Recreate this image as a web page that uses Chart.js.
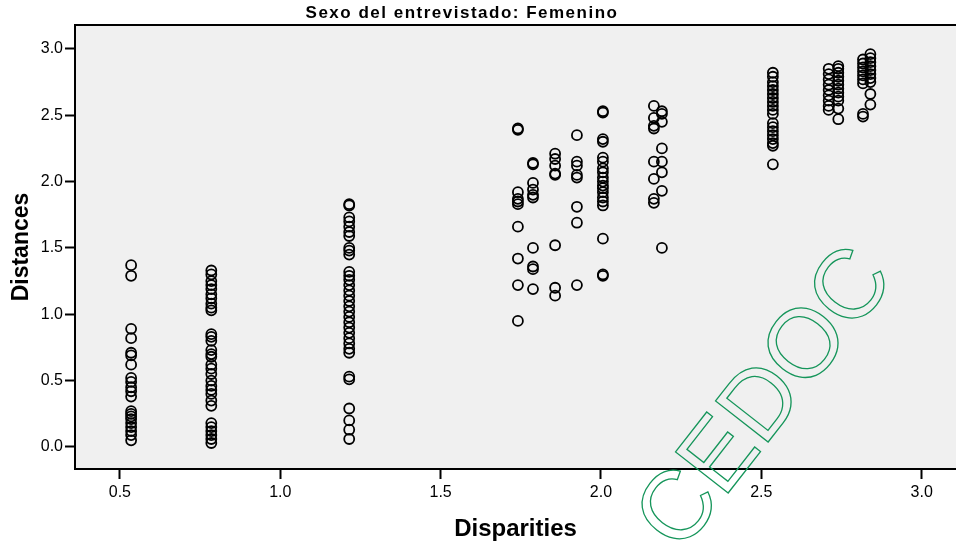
<!DOCTYPE html>
<html>
<head>
<meta charset="utf-8">
<script src="https://cdn.jsdelivr.net/npm/chart.js@4"></script>
<style>
  html, body { margin: 0; padding: 0; background: #fff; overflow: hidden; }
  #scatterChart { display: block; width: 956px; height: 547px; }
</style>
</head>
<body>
<canvas id="scatterChart" width="956" height="547"></canvas>
<script>
// DATA
let chartTitle = 'Sexo del entrevistado: Femenino';
let xAxisLabel = 'Disparities';
let yAxisLabel = 'Distances';
let tickValues = [0.0, 0.5, 1.0, 1.5, 2.0, 2.5, 3.0];

// disparity of each column of points
let disparityLevels = [0.535, 0.785, 1.215, 1.741, 1.788, 1.857, 1.925, 2.006, 2.165, 2.19, 2.536, 2.71, 2.74, 2.817, 2.84];

// distances read for each column, same order
let distancesAtLevel = [
    [1.37, 1.29, 0.89, 0.82, 0.71, 0.69, 0.62, 0.52, 0.49, 0.45, 0.42, 0.38, 0.27, 0.25, 0.23, 0.21, 0.18, 0.15, 0.12, 0.09, 0.05],
    [1.33, 1.30, 1.25, 1.22, 1.19, 1.15, 1.12, 1.08, 1.05, 1.03, 0.85, 0.83, 0.80, 0.73, 0.70, 0.68, 0.62, 0.59, 0.55, 0.50, 0.46, 0.43, 0.40, 0.35, 0.31, 0.18, 0.15, 0.12, 0.09, 0.06, 0.03],
    [1.83, 1.82, 1.73, 1.70, 1.66, 1.62, 1.59, 1.50, 1.48, 1.45, 1.32, 1.29, 1.26, 1.22, 1.18, 1.14, 1.10, 1.06, 1.02, 0.98, 0.94, 0.90, 0.86, 0.82, 0.78, 0.74, 0.71, 0.53, 0.51, 0.29, 0.20, 0.13, 0.06],
    [2.40, 2.39, 1.92, 1.87, 1.85, 1.83, 1.66, 1.42, 1.22, 0.95],
    [2.14, 2.13, 1.99, 1.94, 1.90, 1.88, 1.50, 1.36, 1.34, 1.19],
    [2.21, 2.17, 2.12, 2.06, 2.05, 1.52, 1.20, 1.14],
    [2.35, 2.15, 2.12, 2.05, 2.03, 1.81, 1.69, 1.22],
    [2.53, 2.52, 2.32, 2.30, 2.18, 2.15, 2.10, 2.07, 2.03, 2.00, 1.97, 1.95, 1.92, 1.88, 1.85, 1.82, 1.57, 1.30, 1.29],
    [2.57, 2.48, 2.42, 2.40, 2.15, 2.02, 1.87, 1.84],
    [2.53, 2.51, 2.45, 2.25, 2.15, 2.07, 1.93, 1.50],
    [2.82, 2.79, 2.75, 2.72, 2.69, 2.66, 2.63, 2.60, 2.57, 2.54, 2.51, 2.44, 2.41, 2.38, 2.35, 2.32, 2.29, 2.27, 2.13],
    [2.85, 2.81, 2.77, 2.73, 2.69, 2.65, 2.61, 2.57, 2.54],
    [2.87, 2.85, 2.82, 2.79, 2.76, 2.73, 2.70, 2.67, 2.64, 2.61, 2.55, 2.47],
    [2.92, 2.89, 2.86, 2.83, 2.80, 2.77, 2.74, 2.51, 2.49],
    [2.96, 2.93, 2.90, 2.87, 2.84, 2.81, 2.78, 2.75, 2.66, 2.58]
];

let watermarkText = 'CEDOC';

// build points for the library
let scatterPoints = [];
for (let i = 0; i < disparityLevels.length; i++) {
    for (let j = 0; j < distancesAtLevel[i].length; j++) {
        scatterPoints.push({ x: disparityLevels[i], y: distancesAtLevel[i][j] });
    }
}

const FONT = "'Liberation Sans', Arial, sans-serif";

function keepTicks(scale) {
    scale.ticks = tickValues
        .filter(v => v >= scale.min && v <= scale.max)
        .map(v => ({ value: v }));
}

// grey plot area + top frame line
let plotBackground = {
    id: 'plotBackground',
    beforeDraw(chart) {
        let ctx = chart.ctx, a = chart.chartArea;
        ctx.save();
        ctx.fillStyle = '#f0f0f0';
        ctx.fillRect(a.left, a.top, chart.width - a.left, a.bottom - a.top);
        ctx.strokeStyle = '#000';
        ctx.lineWidth = 2;
        ctx.beginPath();
        ctx.moveTo(a.left, a.top);
        ctx.lineTo(chart.width, a.top);
        ctx.stroke();
        ctx.restore();
    }
};

// chart title, placed like the original
let topTitle = {
    id: 'topTitle',
    afterDraw(chart) {
        let ctx = chart.ctx;
        ctx.save();
        ctx.font = 'bold 17px ' + FONT;
        ctx.letterSpacing = '1.5px';
        ctx.fillStyle = '#000';
        ctx.textAlign = 'center';
        ctx.textBaseline = 'middle';
        ctx.fillText(chartTitle, 462, 13);
        ctx.restore();
    }
};

// green outlined stamp
let stamp = {
    id: 'stamp',
    afterDraw(chart) {
        let ctx = chart.ctx;
        ctx.save();
        ctx.translate(767, 400);
        ctx.rotate(-52 * Math.PI / 180);
        ctx.font = '97px ' + FONT;
        ctx.textAlign = 'center';
        ctx.textBaseline = 'middle';
        ctx.strokeStyle = '#15955a';
        ctx.lineWidth = 1.3;
        ctx.strokeText(watermarkText, 0, 0);
        ctx.restore();
    }
};

let scatterCtx = document.getElementById('scatterChart').getContext('2d');
let scatterChart = new Chart(scatterCtx, {
    type: 'scatter',
    data: {
        datasets: [{
            label: yAxisLabel,
            data: scatterPoints,
            pointStyle: 'circle',
            pointRadius: 5,
            pointHoverRadius: 5,
            borderWidth: 1.8,
            borderColor: '#000',
            backgroundColor: 'rgba(0,0,0,0)'
        }]
    },
    options: {
        responsive: false,
        animation: false,
        layout: { autoPadding: false, padding: { top: 25, left: 0, right: 0, bottom: 0 } },
        plugins: {
            legend: { display: false },
            tooltip: { enabled: false },
            title: { display: false }
        },
        scales: {
            x: {
                type: 'linear',
                min: 0.36,
                max: 3.107,
                afterBuildTicks: keepTicks,
                afterFit(scale) {
                    scale.height = 78;
                    scale.paddingLeft = 0;
                    scale.paddingRight = 0;
                },
                grid: { drawOnChartArea: false, drawTicks: true, tickLength: 10, tickColor: '#000', tickWidth: 2 },
                border: { display: true, color: '#000', width: 2 },
                ticks: {
                    padding: 4,
                    color: '#000',
                    maxRotation: 0,
                    font: { family: FONT, size: 16 },
                    callback: v => v.toFixed(1)
                },
                title: {
                    display: true,
                    text: xAxisLabel,
                    color: '#000',
                    font: { family: FONT, size: 24, weight: 'bold' },
                    padding: { top: 0, bottom: 3 }
                }
            },
            y: {
                type: 'linear',
                min: -0.166,
                max: 3.18,
                afterBuildTicks: keepTicks,
                afterFit(scale) {
                    scale.width = 75;
                    scale.paddingTop = 0;
                    scale.paddingBottom = 0;
                },
                grid: { drawOnChartArea: false, drawTicks: true, tickLength: 10, tickColor: '#000', tickWidth: 2 },
                border: { display: true, color: '#000', width: 2 },
                ticks: {
                    padding: 2,
                    color: '#000',
                    font: { family: FONT, size: 16 },
                    callback: v => v.toFixed(1)
                },
                title: {
                    display: true,
                    text: yAxisLabel,
                    color: '#000',
                    font: { family: FONT, size: 23, weight: 'bold' },
                    padding: { top: 8, bottom: 0 }
                }
            }
        }
    },
    plugins: [plotBackground, topTitle, stamp]
});
</script>
</body>
</html>
